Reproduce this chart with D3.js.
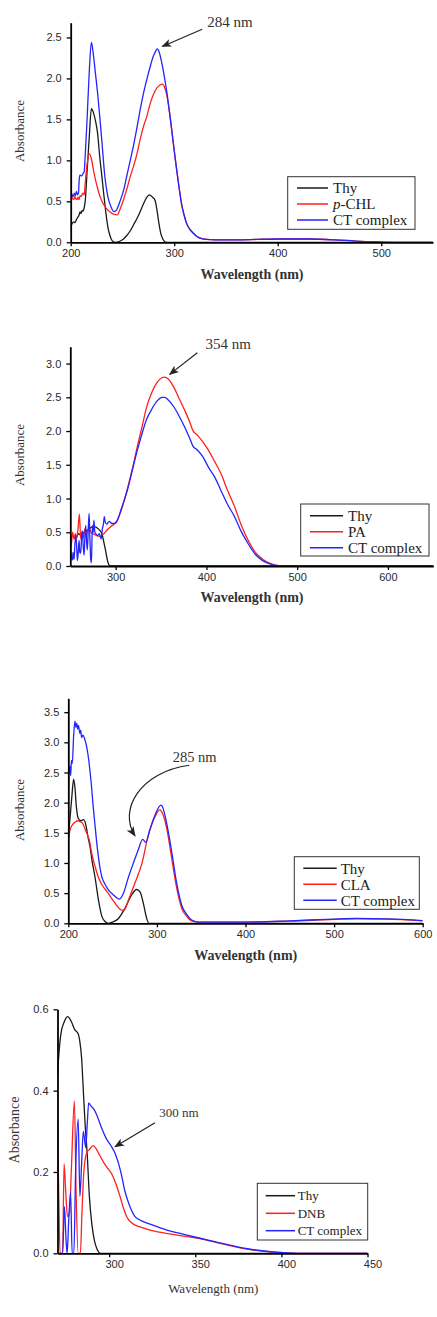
<!DOCTYPE html>
<html><head><meta charset="utf-8">
<script src="https://cdn.jsdelivr.net/npm/d3@7"></script>
<style>
html,body{margin:0;padding:0;background:#fff;}
svg{display:block;}
</style></head><body>
<svg id="chart" width="437" height="1317"></svg>
<script>
// ---------------- Panel 1 : Thy / p-CHL ----------------
const p1Thy = [[200,0.19],[201,0.22],[203,0.25],[204,0.24],[206,0.29],[208,0.33],[209,0.37],[210,0.35],[211,0.39],[212,0.38],[213,0.42],[214,0.50],[216,0.90],[218,1.30],[220,1.63],[222,1.58],[224,1.48],[226,1.33],[228,1.05],[230,0.82],[232,0.58],[234,0.36],[236,0.18],[238,0.08],[240,0.02],[243,0.0],[246,0.005],[250,0.03],[254,0.08],[258,0.15],[261,0.22],[264,0.29],[267,0.37],[270,0.46],[273,0.54],[276,0.58],[279,0.55],[281.5,0.51],[283,0.42],[285,0.25],[287,0.11],[289,0.04],[291,0.005],[293,0],[550,0]];
const p1CHL = [[200,0.93],[200.8,0.60],[201.5,0.54],[203,0.52],[204,0.56],[205,0.53],[206,0.52],[207,0.55],[208,0.52],[209,0.57],[210,0.56],[211,0.58],[212,0.60],[213,0.58],[214,0.72],[216,0.97],[218,1.08],[220,1.02],[222,0.88],[224,0.76],[226,0.66],[228,0.57],[231,0.48],[234,0.42],[238,0.37],[242,0.34],[245,0.335],[247.6,0.40],[251,0.52],[254,0.64],[257,0.78],[260.5,0.92],[264,1.08],[267,1.25],[270,1.40],[273.4,1.53],[276.5,1.68],[279.8,1.80],[283,1.88],[286.3,1.92],[288.6,1.93],[290.5,1.90],[292.8,1.80],[295.3,1.60],[297.6,1.37],[300,1.12],[302.4,0.88],[304.8,0.66],[307.2,0.46],[309.6,0.33],[312,0.23],[315,0.16],[318.5,0.11],[322,0.07],[325,0.05],[331,0.035],[340,0.03],[360,0.03],[380,0.035],[400,0.04],[430,0.04],[455,0.03],[475,0.015],[495,0.005],[515,0],[550,0]];
const p1CT = [[200,0.58],[200.7,0.55],[201.5,0.58],[202.5,0.56],[203.5,0.60],[204.5,0.57],[205.5,0.62],[206.5,0.58],[207.5,0.60],[208.3,0.78],[209,0.82],[210.5,0.81],[212,0.84],[213,0.86],[214,1.05],[216,1.55],[218,2.10],[220,2.44],[222,2.28],[224,2.05],[226,1.82],[228.3,1.50],[230,1.25],[233,0.80],[236,0.55],[239,0.43],[241.8,0.374],[244,0.39],[247.6,0.50],[251,0.63],[254,0.80],[257,0.97],[260.5,1.17],[264,1.40],[267,1.61],[270,1.80],[273.4,1.98],[276.5,2.13],[279.8,2.27],[282,2.33],[283.7,2.36],[285.5,2.32],[288,2.19],[290.5,2.02],[293,1.82],[295.3,1.60],[297.6,1.37],[300,1.12],[302.4,0.88],[304.8,0.66],[307.2,0.46],[309.6,0.33],[312,0.23],[315,0.16],[318.5,0.11],[322,0.07],[325,0.05],[331,0.035],[340,0.03],[360,0.03],[380,0.035],[400,0.04],[430,0.04],[455,0.03],[475,0.015],[495,0.005],[515,0],[550,0]];
const p1XTicks = [200,300,400,500];
const p1YTicks = [0,0.5,1.0,1.5,2.0,2.5];

// ---------------- Panel 2 : Thy / PA ----------------
const p2Thy = [[250,0.42],[253,0.45],[256,0.40],[259,0.48],[262,0.45],[265,0.50],[268,0.52],[271,0.55],[274,0.58],[277,0.58],[280,0.56],[283,0.52],[285,0.47],[287,0.35],[289,0.22],[291,0.08],[293,0.01],[295,0],[650,0]];
const p2PA = [[250,0.52],[251,0.30],[252.5,0.50],[254,0.40],[255.5,0.48],[257,0.42],[258.5,0.55],[260,0.77],[261.5,0.40],[263,0.50],[264.5,0.42],[266,0.55],[267.5,0.45],[269,0.52],[271,0.55],[273,0.50],[276,0.47],[279,0.45],[283,0.44],[287,0.48],[291,0.54],[295,0.59],[300,0.64],[307,0.86],[313,1.15],[318,1.42],[324,1.78],[329,2.06],[334,2.35],[340,2.58],[346,2.73],[351,2.79],[354,2.80],[358,2.77],[364,2.65],[370,2.48],[376,2.31],[382,2.12],[385,2.01],[390,1.94],[396,1.84],[402,1.72],[409,1.55],[416,1.37],[423,1.13],[431,0.88],[438,0.62],[446,0.38],[454,0.20],[462,0.10],[470,0.04],[478,0.01],[490,0],[650,0]];
const p2CT = [[250,0.50],[251,0.15],[252.4,0.09],[253,0.20],[254.2,0.10],[255,0.30],[256,0.45],[257,0.30],[257.8,0.08],[259,0.25],[259.7,0.38],[260.5,0.20],[261.5,0.19],[262.5,0.45],[263.3,0.52],[264.2,0.30],[265.2,0.16],[266,0.40],[267,0.60],[268,0.35],[268.8,0.24],[269.8,0.55],[270.7,0.78],[271.5,0.45],[272.5,0.10],[273.3,0.05],[274.3,0.60],[275.2,0.50],[276.1,0.68],[277,0.50],[278,0.48],[280,0.45],[282,0.48],[284,0.40],[285.3,0.55],[286.5,0.62],[287.5,0.73],[288.5,0.65],[290,0.62],[292.7,0.66],[296,0.63],[300,0.64],[307,0.88],[313,1.13],[318,1.40],[324,1.72],[329,1.96],[334,2.17],[340,2.33],[346,2.45],[351,2.50],[354,2.50],[358,2.46],[364,2.36],[370,2.22],[376,2.06],[382,1.88],[385,1.78],[390,1.72],[396,1.62],[402,1.47],[409,1.32],[416,1.12],[423,0.92],[431,0.73],[438,0.52],[446,0.33],[454,0.17],[462,0.08],[470,0.03],[478,0.005],[490,0],[650,0]];
const p2XTicks = [300,400,500,600];
const p2YTicks = [0,0.5,1.0,1.5,2.0,2.5,3.0];

// ---------------- Panel 3 : Thy / CLA ----------------
const p3Thy = [[200,1.45],[202,1.75],[204,2.10],[206,2.39],[207.5,2.25],[209,1.95],[211,1.75],[214,1.70],[217.5,1.72],[220,1.62],[222,1.45],[224.5,1.27],[227,1.02],[230,0.78],[234,0.39],[238,0.11],[241.5,0.03],[245,0.0],[250,0.02],[256.6,0.08],[264,0.25],[271.5,0.47],[277,0.56],[281,0.52],[284.7,0.33],[288.5,0.08],[291,0],[600,0]];
const p3CLA = [[200,1.38],[202,1.55],[205,1.64],[208,1.68],[211,1.70],[214,1.68],[216,1.66],[220,1.52],[223.5,1.39],[227,1.12],[231,0.90],[234,0.76],[238,0.64],[245,0.50],[253,0.33],[260,0.22],[263,0.22],[268,0.39],[275,0.66],[283,0.99],[290,1.44],[298,1.77],[303,1.88],[305,1.86],[311,1.58],[317,1.05],[322.4,0.58],[328,0.25],[334,0.11],[339,0.04],[350,0.02],[400,0.02],[450,0.035],[500,0.065],[525,0.075],[560,0.07],[600,0.04]];
const p3CT = [[200,2.16],[201,2.55],[202,2.60],[202.7,2.45],[203.5,2.70],[204.5,2.65],[206,3.10],[207.5,3.35],[208.5,3.25],[209.5,3.32],[210.5,3.22],[211.5,3.28],[213,3.15],[214,3.20],[215,3.08],[216.5,3.12],[218.8,3.04],[220.7,2.93],[222.6,2.76],[224.5,2.52],[226,2.30],[228,1.95],[230,1.65],[232,1.35],[234,1.10],[236,0.90],[238,0.76],[241,0.66],[245,0.56],[251,0.47],[257.5,0.40],[262,0.49],[268,0.77],[273.5,1.00],[279,1.22],[284,1.39],[287.4,1.34],[292,1.55],[298,1.80],[304.5,1.96],[306,1.94],[311,1.66],[317,1.16],[322.4,0.66],[328,0.30],[334,0.14],[339.3,0.055],[347,0.02],[400,0.02],[450,0.04],[500,0.07],[525,0.08],[560,0.075],[600,0.045]];
const p3XTicks = [200,300,400,500,600];
const p3YTicks = [0,0.5,1.0,1.5,2.0,2.5,3.0,3.5];

// ---------------- Panel 4 : Thy / DNB ----------------
const p4Thy = [[270,0.44],[271,0.50],[272,0.54],[274,0.57],[276,0.582],[278,0.57],[280,0.55],[282,0.54],[283,0.52],[284,0.48],[285,0.40],[286,0.32],[287.3,0.24],[288.5,0.14],[290,0.07],[291.5,0.03],[293,0.01],[295,0],[450,0]];
const p4DNB = [[270,0.33],[270.7,0.15],[271.5,0],[273,0.0],[273.8,0.22],[274.8,0.15],[275.8,0.09],[277,0.10],[278,0.20],[279.8,0.375],[280.8,0.15],[282,0],[283.3,0],[284.2,0.10],[285,0.18],[286,0.23],[287.3,0.25],[288.5,0.255],[290.5,0.265],[292,0.26],[294,0.245],[296.6,0.225],[299,0.21],[301.5,0.195],[304,0.17],[306.3,0.14],[308,0.115],[310.2,0.09],[313,0.075],[317.9,0.065],[325,0.056],[335,0.048],[345,0.041],[352.8,0.036],[362,0.027],[372,0.017],[382,0.009],[391.5,0.004],[400,0.001],[410,0],[450,0]];
const p4CT = [[270,0],[273,0],[274,0.115],[275,0.03],[275.6,0],[276.5,0.08],[277.6,0.15],[278.5,0],[279.5,0],[280.5,0.20],[282,0.33],[283,0.14],[284,0.22],[285,0.30],[286.4,0.26],[287.3,0.32],[288.1,0.37],[289,0.365],[289.9,0.36],[291,0.355],[292.8,0.34],[295,0.315],[298.6,0.28],[301,0.265],[303.4,0.246],[305.5,0.22],[307.3,0.19],[309,0.155],[311.1,0.126],[313,0.105],[315,0.09],[319.8,0.078],[325,0.07],[333.4,0.057],[343,0.047],[352.8,0.037],[362,0.028],[372,0.018],[382,0.01],[391.5,0.005],[400,0.002],[410,0],[450,0]];
const p4XTicks = [300,350,400,450];
const p4YTicks = [0,0.2,0.4,0.6];

const seriesColors = ["#1a1a1a","#ff2020","#2424ff"];

const svg = d3.select("#chart");
const defs = svg.append("defs");
defs.append("marker").attr("id","arrowhead").attr("viewBox","0 0 10 8")
  .attr("refX",9).attr("refY",4).attr("markerWidth",10).attr("markerHeight",8)
  .attr("markerUnits","userSpaceOnUse").attr("orient","auto")
  .append("path").attr("d","M0,0 L10,4 L0,8 L2.5,4 Z").attr("fill","#222");

const panels = [
  {id:1, xDomain:[200,550], yDomain:[0,2.68], left:70.7, right:433, top:22.7, bottom:242.3,
   series:[p1Thy,p1CHL,p1CT], names:["Thy","p-CHL","CT complex"], xTicks:p1XTicks, yTicks:p1YTicks,
   xlab:{x:252,y:278.5,size:14,bold:true}, ylab:{x:24,y:131,size:13},
   legend:{x0:287.7,x1:415,y0:176.7,y1:229.3,rows:[188,204,220],l0:297,l1:328,tx:333,size:15},
   ann:{text:"284 nm", tx:332, ty:2.63, size:15, arrow:[[327,2.60],[288.5,2.39]]}, tickDx:0, tickFont:11},
  {id:2, xDomain:[250,650], yDomain:[0,3.25], left:70.3, right:433.3, top:346.7, bottom:566,
   series:[p2Thy,p2PA,p2CT], names:["Thy","PA","CT complex"], xTicks:p2XTicks, yTicks:p2YTicks,
   xlab:{x:252,y:601.5,size:14,bold:true}, ylab:{x:24,y:455,size:13},
   legend:{x0:300.7,x1:429,y0:504,y1:556,rows:[515.7,531.7,547.7],l0:310,l1:343,tx:348,size:15},
   ann:{text:"354 nm", tx:399, ty:3.21, size:15, arrow:[[390,3.16],[359.5,2.84]]}, tickDx:0, tickFont:11},
  {id:3, xDomain:[200,600], yDomain:[0,3.73], left:68.3, right:422.7, top:698.3, bottom:923.3,
   series:[p3Thy,p3CLA,p3CT], names:["Thy","CLA","CT complex"], xTicks:p3XTicks, yTicks:p3YTicks,
   xlab:{x:245.7,y:959.5,size:14,bold:true}, ylab:{x:24,y:810,size:13},
   legend:{x0:294.3,x1:419.3,y0:856.7,y1:909.3,rows:[868.3,884.3,900.3],l0:303.3,l1:336.7,tx:340.7,size:15},
   ann:{text:"285 nm", tx:317.8, ty:2.67, size:14.5, curve:[[336.6,2.62],[280.9,2.51],[256.1,1.88],[275.3,1.45]]}, tickDx:0, tickFont:11},
  {id:4, xDomain:[270,450], yDomain:[0,0.6], left:57.5, right:367.5, top:1009.3, bottom:1253.3,
   series:[p4Thy,p4DNB,p4CT], names:["Thy","DNB","CT complex"], xTicks:p4XTicks, yTicks:p4YTicks,
   xlab:{x:213.3,y:1293,size:13,bold:false}, ylab:{x:19,y:1130,size:14},
   legend:{x0:257.3,x1:367.7,y0:1183.3,y1:1240,rows:[1195.7,1213.3,1230.7],l0:265.7,l1:295,tx:297.7,size:13},
   ann:{text:"300 nm", tx:329.1, ty:0.336, size:13, arrow:[[326.6,0.321],[303.4,0.262]]}, tickDx:5, tickFont:11}
];

panels.forEach(p => {
  const g = svg.append("g");
  const x = d3.scaleLinear().domain(p.xDomain).range([p.left, p.right]);
  const y = d3.scaleLinear().domain(p.yDomain).range([p.bottom, p.top]);
  const clipId = "clip" + p.id;
  defs.append("clipPath").attr("id", clipId).append("rect")
    .attr("x", p.left).attr("y", p.top - 5).attr("width", p.right - p.left).attr("height", p.bottom - p.top + 6);
  const line = d3.line().x(d => x(d[0])).y(d => y(d[1])).curve(d3.curveMonotoneX);
  const lg = g.append("g").attr("clip-path", `url(#${clipId})`);
  p.series.forEach((s, i) => {
    lg.append("path").datum(s).attr("d", line).attr("fill","none")
      .attr("stroke", seriesColors[i]).attr("stroke-width", 1.3).attr("stroke-linejoin","round");
  });

  // axes
  const xAxis = d3.axisBottom(x).tickValues(p.xTicks).tickSize(4).tickPadding(3).tickSizeOuter(0).tickFormat(d3.format("d"));
  const xa = g.append("g").attr("transform", `translate(0,${p.bottom})`).call(xAxis);
  const yAxis = d3.axisLeft(y).tickValues(p.yTicks).tickSize(4).tickPadding(5).tickSizeOuter(0).tickFormat(d3.format(".1f"));
  const ya = g.append("g").attr("transform", `translate(${p.left},0)`).call(yAxis);
  [xa, ya].forEach(a => {
    a.select(".domain").attr("stroke","#000").attr("stroke-width",1.8);
    a.selectAll(".tick line").attr("stroke","#000").attr("stroke-width",1.3);
    a.selectAll(".tick text").attr("font-family","'Liberation Sans', Arial, sans-serif")
      .attr("font-size", p.tickFont).attr("fill","#2a2a2a");
  });
  xa.selectAll(".tick text").attr("dx", p.tickDx);

  // axis titles
  g.append("text").attr("x", p.xlab.x).attr("y", p.xlab.y).attr("text-anchor","middle")
    .attr("font-family","'Liberation Serif', 'Times New Roman', serif").attr("font-size", p.xlab.size)
    .attr("font-weight", p.xlab.bold ? "bold" : "normal").attr("fill","#333").text("Wavelength (nm)");
  g.append("text").attr("transform", `translate(${p.ylab.x},${p.ylab.y}) rotate(-90)`).attr("text-anchor","middle")
    .attr("font-family","'Liberation Serif', 'Times New Roman', serif").attr("font-size", p.ylab.size)
    .attr("fill","#333").text("Absorbance");

  // legend
  const L = p.legend;
  const leg = g.append("g");
  leg.append("rect").attr("x", L.x0).attr("y", L.y0).attr("width", L.x1 - L.x0).attr("height", L.y1 - L.y0)
    .attr("fill","#fff").attr("stroke","#333").attr("stroke-width",1);
  p.names.forEach((n, i) => {
    leg.append("line").attr("x1", L.l0).attr("x2", L.l1).attr("y1", L.rows[i]).attr("y2", L.rows[i])
      .attr("stroke", seriesColors[i]).attr("stroke-width", 1.5);
    const t = leg.append("text").attr("x", L.tx).attr("y", L.rows[i]).attr("dy","0.35em")
      .attr("font-family","'Liberation Serif', 'Times New Roman', serif").attr("font-size", L.size).attr("fill","#222");
    if (n === "p-CHL") {
      t.append("tspan").attr("font-style","italic").text("p");
      t.append("tspan").text("-CHL");
    } else t.text(n);
  });

  // annotation
  const A = p.ann;
  g.append("text").attr("x", x(A.tx)).attr("y", y(A.ty))
    .attr("font-family","'Liberation Serif', 'Times New Roman', serif").attr("font-size", A.size)
    .attr("fill","#333").text(A.text);
  if (A.arrow) {
    g.append("line").attr("x1", x(A.arrow[0][0])).attr("y1", y(A.arrow[0][1]))
      .attr("x2", x(A.arrow[1][0])).attr("y2", y(A.arrow[1][1]))
      .attr("stroke","#222").attr("stroke-width",1.2).attr("marker-end","url(#arrowhead)");
  }
  if (A.curve) {
    const c = A.curve.map(d => [x(d[0]), y(d[1])]);
    const path = d3.path();
    path.moveTo(c[0][0], c[0][1]);
    path.bezierCurveTo(c[1][0], c[1][1], c[2][0], c[2][1], c[3][0], c[3][1]);
    g.append("path").attr("d", path.toString()).attr("fill","none")
      .attr("stroke","#222").attr("stroke-width",1.2).attr("marker-end","url(#arrowhead)");
  }
});
</script>
</body></html>
